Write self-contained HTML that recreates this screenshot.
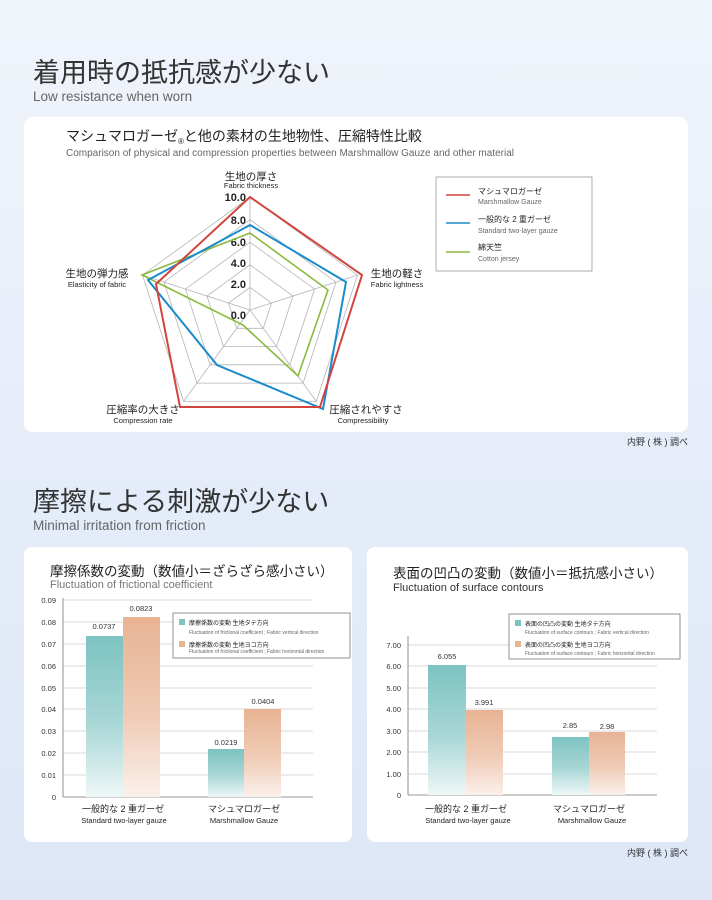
<!DOCTYPE html>
<html><head><meta charset="utf-8">
<style>
html,body{margin:0;padding:0;width:712px;height:900px;overflow:hidden;background:linear-gradient(180deg,#f0f4fb 0%,#e6edf9 50%,#dde7f7 100%);}
svg{display:block;font-family:"Liberation Sans","Noto Sans CJK JP",sans-serif;}
</style></head><body>
<svg width="712" height="900" viewBox="0 0 712 900" xmlns="http://www.w3.org/2000/svg">
<defs>
<linearGradient id="tl" x1="0" y1="0" x2="0" y2="1"><stop offset="0" stop-color="#7cc3c2"/><stop offset="0.55" stop-color="#a9d7d6"/><stop offset="1" stop-color="#eef7f7"/></linearGradient>
<linearGradient id="pc" x1="0" y1="0" x2="0" y2="1"><stop offset="0" stop-color="#e8b393"/><stop offset="0.55" stop-color="#efcbb6"/><stop offset="1" stop-color="#fbf0ea"/></linearGradient>
</defs>

<text x="33" y="82" font-size="27" fill="#333">着用時の抵抗感が少ない</text>
<text x="33" y="101" font-size="13.5" fill="#666">Low resistance when worn</text>

<rect x="24" y="117" width="664" height="315" rx="9" fill="#fff"/>
<text x="66" y="141" font-size="14" fill="#222">マシュマロガーゼ<tspan font-size="8" dy="3">®</tspan><tspan dy="-3">と他の素材の生地物性、圧縮特性比較</tspan></text>
<text x="66" y="156" font-size="10" fill="#666">Comparison of physical and compression properties between Marshmallow Gauze and other material</text>

<g fill="none" stroke="#b5b5b5" stroke-width="0.8">
<polygon points="250,197 357.5,275.1 316.4,401.4 183.6,401.4 142.5,275.1"/>
<polygon points="250,219.6 336,282.1 303.1,383.1 196.9,383.1 164,282.1"/>
<polygon points="250,242.2 314.5,289.1 289.9,364.8 210.1,364.8 185.5,289.1"/>
<polygon points="250,264.8 293,296 276.6,346.6 223.4,346.6 207,296"/>
<polygon points="250,287.4 271.5,303 263.3,328.3 236.7,328.3 228.5,303"/>
<line x1="250" y1="310" x2="250" y2="197"/><line x1="250" y1="310" x2="357.5" y2="275.1"/>
<line x1="250" y1="310" x2="316.4" y2="401.4"/><line x1="250" y1="310" x2="183.6" y2="401.4"/>
<line x1="250" y1="310" x2="142.5" y2="275.1"/>
</g>
<g font-size="11" font-weight="bold" fill="#222" text-anchor="end">
<text x="246" y="201">10.0</text><text x="246" y="224">8.0</text><text x="246" y="246">6.0</text>
<text x="246" y="267">4.0</text><text x="246" y="288">2.0</text><text x="246" y="319">0.0</text>
</g>
<polygon points="250,233 328,290 298,376 243,325 142,275" fill="none" stroke="#8cb83e" stroke-width="1.6"/>
<polygon points="250,225 346,282 323,409 217,365 148,280" fill="none" stroke="#1a8ccc" stroke-width="2"/>
<polygon points="250,197 362,275 320,407 180,407 156,284" fill="none" stroke="#d2453f" stroke-width="2"/>

<g text-anchor="middle" fill="#222">
<text x="251" y="180" font-size="10.5">生地の厚さ</text><text x="251" y="188" font-size="7.5">Fabric thickness</text>
<text x="397" y="277" font-size="10.5">生地の軽さ</text><text x="397" y="287" font-size="7.5">Fabric lightness</text>
<text x="366" y="413" font-size="10.5">圧縮されやすさ</text><text x="363" y="423" font-size="7.5">Compressibility</text>
<text x="143" y="413" font-size="10.5">圧縮率の大きさ</text><text x="143" y="423" font-size="7.5">Compression rate</text>
<text x="97" y="277" font-size="10.5">生地の弾力感</text><text x="97" y="287" font-size="7.5">Elasticity of fabric</text>
</g>
<rect x="436" y="177" width="156" height="94" fill="#fff" stroke="#999" stroke-width="0.8"/>
<line x1="446" y1="195" x2="470" y2="195" stroke="#d2453f" stroke-width="1.6"/>
<line x1="446" y1="223" x2="470" y2="223" stroke="#1a8ccc" stroke-width="1.6"/>
<line x1="446" y1="252" x2="470" y2="252" stroke="#8cb83e" stroke-width="1.6"/>
<g font-size="8" fill="#222"><text x="478" y="194">マシュマロガーゼ</text><text x="478" y="222">一般的な 2 重ガーゼ</text><text x="478" y="250">綿天竺</text></g>
<g font-size="7" fill="#666"><text x="478" y="204">Marshmallow Gauze</text><text x="478" y="233">Standard two-layer gauze</text><text x="478" y="261">Cotton jersey</text></g>

<text x="688" y="445" font-size="9" fill="#333" text-anchor="end">内野 ( 株 ) 調べ</text>

<text x="33" y="511" font-size="27" fill="#333">摩擦による刺激が少ない</text>
<text x="33" y="530" font-size="13.5" fill="#666">Minimal irritation from friction</text>

<rect x="24" y="547" width="328" height="295" rx="8" fill="#fff"/>
<text x="50" y="576" font-size="13.5" fill="#222">摩擦係数の変動（数値小＝ざらざら感小さい）</text>
<text x="50" y="588" font-size="11" fill="#777">Fluctuation of frictional coefficient</text>
<g stroke="#ccc" stroke-width="0.8">
<line x1="63" y1="600" x2="313" y2="600"/><line x1="63" y1="622" x2="313" y2="622"/><line x1="63" y1="644" x2="313" y2="644"/>
<line x1="63" y1="666" x2="313" y2="666"/><line x1="63" y1="688" x2="313" y2="688"/><line x1="63" y1="709" x2="313" y2="709"/>
<line x1="63" y1="731" x2="313" y2="731"/><line x1="63" y1="753" x2="313" y2="753"/><line x1="63" y1="775" x2="313" y2="775"/>
</g>
<line x1="63" y1="598" x2="63" y2="797" stroke="#777" stroke-width="0.8"/>
<line x1="63" y1="797" x2="313" y2="797" stroke="#777" stroke-width="0.8"/>
<g font-size="7.5" fill="#333" text-anchor="end">
<text x="56" y="603">0.09</text><text x="56" y="625">0.08</text><text x="56" y="647">0.07</text><text x="56" y="669">0.06</text>
<text x="56" y="691">0.05</text><text x="56" y="712">0.04</text><text x="56" y="734">0.03</text><text x="56" y="756">0.02</text>
<text x="56" y="778">0.01</text><text x="56" y="800">0</text>
</g>
<rect x="86" y="636" width="37" height="161" fill="url(#tl)"/>
<rect x="123" y="617" width="37" height="180" fill="url(#pc)"/>
<rect x="208" y="749" width="36" height="48" fill="url(#tl)"/>
<rect x="244" y="709" width="37" height="88" fill="url(#pc)"/>
<g font-size="7.5" fill="#333" text-anchor="middle">
<text x="104" y="629">0.0737</text><text x="141" y="611">0.0823</text><text x="226" y="745">0.0219</text><text x="263" y="704">0.0404</text>
</g>
<rect x="173" y="613" width="177" height="45" fill="#fff" stroke="#777" stroke-width="0.8"/>
<rect x="179" y="619" width="6" height="6" fill="#7cc3c2"/><rect x="179" y="641" width="6" height="6" fill="#e8b393"/>
<g font-size="6" fill="#222"><text x="189" y="625">摩擦係数の変動 生地タテ方向</text><text x="189" y="647">摩擦係数の変動 生地ヨコ方向</text></g>
<g font-size="5" fill="#666"><text x="189" y="634">Fluctuation of frictional coefficient ; Fabric vertical direction</text><text x="189" y="653">Fluctuation of frictional coefficient ; Fabric horizontal direction</text></g>
<g text-anchor="middle" fill="#222">
<text x="123" y="812" font-size="9">一般的な 2 重ガーゼ</text><text x="124" y="823" font-size="7.5">Standard two-layer gauze</text>
<text x="244" y="812" font-size="9">マシュマロガーゼ</text><text x="244" y="823" font-size="7.5">Marshmallow Gauze</text>
</g>

<rect x="367" y="547" width="321" height="295" rx="8" fill="#fff"/>
<text x="393" y="578" font-size="13.5" fill="#222">表面の凹凸の変動（数値小＝抵抗感小さい）</text>
<text x="393" y="591" font-size="11" fill="#333">Fluctuation of surface contours</text>
<g stroke="#ccc" stroke-width="0.8">
<line x1="408" y1="645" x2="657" y2="645"/><line x1="408" y1="666" x2="657" y2="666"/><line x1="408" y1="688" x2="657" y2="688"/>
<line x1="408" y1="709" x2="657" y2="709"/><line x1="408" y1="731" x2="657" y2="731"/><line x1="408" y1="752" x2="657" y2="752"/>
<line x1="408" y1="774" x2="657" y2="774"/>
</g>
<line x1="408" y1="636" x2="408" y2="795" stroke="#777" stroke-width="0.8"/>
<line x1="408" y1="795" x2="657" y2="795" stroke="#777" stroke-width="0.8"/>
<g font-size="7.5" fill="#333" text-anchor="end">
<text x="401" y="648">7.00</text><text x="401" y="669">6.00</text><text x="401" y="691">5.00</text><text x="401" y="712">4.00</text>
<text x="401" y="734">3.00</text><text x="401" y="755">2.00</text><text x="401" y="777">1.00</text><text x="401" y="798">0</text>
</g>
<rect x="428" y="665" width="38" height="130" fill="url(#tl)"/>
<rect x="466" y="710" width="37" height="85" fill="url(#pc)"/>
<rect x="552" y="737" width="37" height="58" fill="url(#tl)"/>
<rect x="589" y="732" width="36" height="63" fill="url(#pc)"/>
<g font-size="7.5" fill="#333" text-anchor="middle">
<text x="447" y="659">6.055</text><text x="484" y="705">3.991</text><text x="570" y="728">2.85</text><text x="607" y="729">2.98</text>
</g>
<rect x="509" y="614" width="171" height="45" fill="#fff" stroke="#777" stroke-width="0.8"/>
<rect x="515" y="620" width="6" height="6" fill="#7cc3c2"/><rect x="515" y="641" width="6" height="6" fill="#e8b393"/>
<g font-size="6" fill="#222"><text x="525" y="626">表面の凹凸の変動 生地タテ方向</text><text x="525" y="647">表面の凹凸の変動 生地ヨコ方向</text></g>
<g font-size="5" fill="#666"><text x="525" y="634">Fluctuation of surface contours ; Fabric vertical direction</text><text x="525" y="655">Fluctuation of surface contours ; Fabric horizontal direction</text></g>
<g text-anchor="middle" fill="#222">
<text x="466" y="812" font-size="9">一般的な 2 重ガーゼ</text><text x="468" y="823" font-size="7.5">Standard two-layer gauze</text>
<text x="589" y="812" font-size="9">マシュマロガーゼ</text><text x="592" y="823" font-size="7.5">Marshmallow Gauze</text>
</g>

<text x="688" y="856" font-size="9" fill="#333" text-anchor="end">内野 ( 株 ) 調べ</text>
</svg>
</body></html>
